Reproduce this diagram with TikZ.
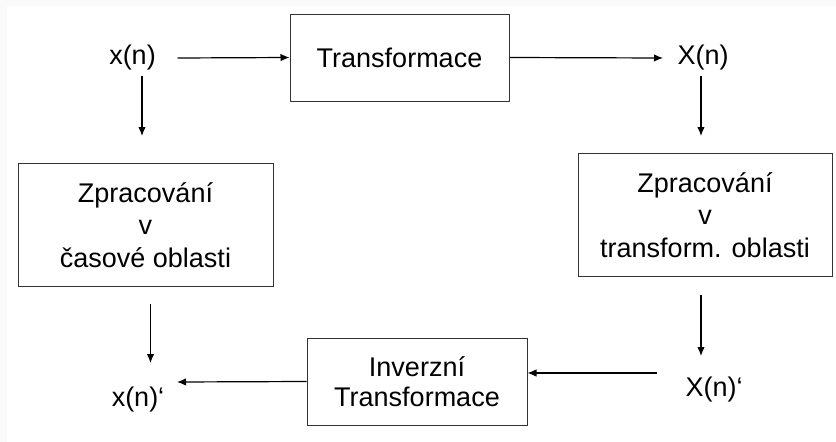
\documentclass[tikz,border=0pt]{standalone}
\usepackage{fontspec}
\setmainfont{Liberation Sans}
\usetikzlibrary{arrows.meta}

\begin{document}
\begin{tikzpicture}[x=1pt,y=-1pt,>={Latex[length=9pt,width=7.5pt]},line width=1.2pt,
    every node/.style={font=\fontsize{27}{32.5}\selectfont},
    blok/.style={draw=black!80,line width=1pt,align=center,inner sep=0pt},
    signal/.style={inner sep=0pt}]
    % pozadi
    \fill[black!2] (0,0) rectangle (836,442);
    \fill[white] (7,6) rectangle (836,442);
    \useasboundingbox (0,0) rectangle (836,442);
    % bloky
    \node[blok,minimum width=219pt,minimum height=87pt] (T) at (399.5,57.5) {Transformace};
    \node[blok,minimum width=255pt,minimum height=123pt] (L) at (145.5,225) {Zpracování\\v\\časové oblasti};
    \node[blok,minimum width=254pt,minimum height=123pt] (R) at (705,215) {Zpracování\\v\\transform. oblasti};
    \node[blok,minimum width=220pt,minimum height=87pt,font=\fontsize{27}{30}\selectfont] (I) at (417,381.5) {Inverzní\\Transformace};
    % signaly
    \node[signal] (xn) at (132.5,58) {x(n)};
    \node[signal] (Xn) at (703,58) {X(n)};
    \node[signal] (xnp) at (138,400) {x(n)‘};
    \node[signal] (Xnp) at (714,390) {X(n)‘};
    % sipky
    \draw[->] (xn) ++ (45,0) -- (T.west);
    \draw[<-] (Xn) ++ (-40,0) -- (T.east);
    \draw[->] (xn) ++ (9.5,18) --++ (0,60);
    \draw[->] (Xn) ++ (-2,18) --++ (0,60);
    \draw[->] (L.south) ++ (5,17) --++ (0,59);
    \draw[->] (R.south) ++ (-4,18) --++ (0,61);
    \draw[->] (Xnp) ++ (-57,-17) coordinate (x1) -- (x1 -| I.east);
    \draw[<-] (xnp) ++ (39,-18) -- (I.west);
\end{tikzpicture}
\end{document}
